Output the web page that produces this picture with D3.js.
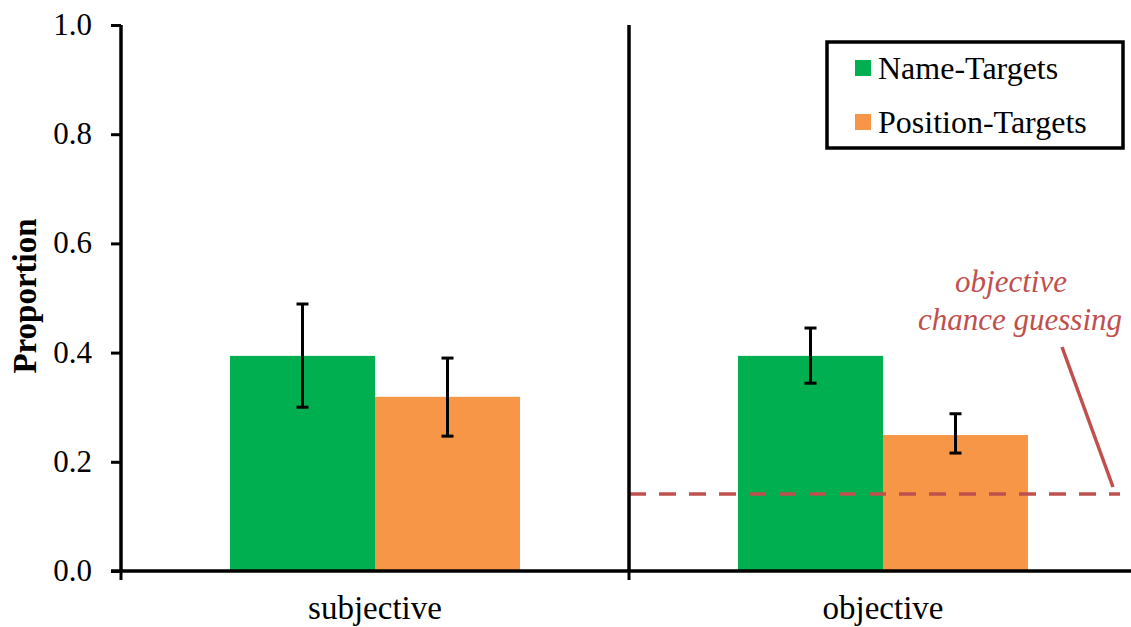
<!DOCTYPE html>
<html><head><meta charset="utf-8">
<script src="https://cdn.jsdelivr.net/npm/d3@7"></script>
</head><body style="margin:0;background:#fff">
<svg id="c" width="1131" height="627"></svg>
<script>
const categories = ["subjective", "objective"];
const seriesNames = ["Name-Targets", "Position-Targets"];
const seriesColors = ["#00b050", "#f79646"];
const nameValues = [0.394, 0.394];
const nameLow = [0.300, 0.344];
const nameHigh = [0.489, 0.445];
const positionValues = [0.319, 0.249];
const positionLow = [0.247, 0.216];
const positionHigh = [0.390, 0.288];
const yTicks = [0, 0.2, 0.4, 0.6, 0.8, 1.0];
const chanceLevel = 0.141;

const SERIF = "\"Liberation Serif\"";
const svg = d3.select("#c");
const mLeft = 121, mTop = 25, mBottom = 571, bandW = 508;
const x = d3.scaleBand().domain(categories).range([mLeft, mLeft + bandW * 2]).paddingInner(0).paddingOuter(0);
const y = d3.scaleLinear().domain([0, 1]).range([mBottom, mTop]);
const xs = d3.scaleBand().domain(seriesNames).range([0, x.bandwidth()]).paddingInner(0).paddingOuter(0.7517);
const color = d3.scaleOrdinal().domain(seriesNames).range(seriesColors);

const data = categories.map((c, i) => ({
  cat: c,
  vals: [
    {s: seriesNames[0], v: nameValues[i], lo: nameLow[i], hi: nameHigh[i]},
    {s: seriesNames[1], v: positionValues[i], lo: positionLow[i], hi: positionHigh[i]}
  ]
}));

// bars
const groups = svg.append("g").selectAll("g.grp").data(data).join("g").attr("transform", d => `translate(${x(d.cat)},0)`);
groups.selectAll("rect").data(d => d.vals).join("rect")
  .attr("x", d => xs(d.s)).attr("width", xs.bandwidth())
  .attr("y", d => y(d.v)).attr("height", d => y(0) - y(d.v))
  .attr("fill", d => color(d.s));

// chance line
svg.append("line")
  .attr("x1", x("objective")).attr("x2", 1120)
  .attr("y1", y(chanceLevel)).attr("y2", y(chanceLevel))
  .attr("stroke", "#c0504d").attr("stroke-width", 3.5).attr("stroke-dasharray", "17,13");

// error bars
groups.each(function(d) {
  const gg = d3.select(this);
  d.vals.forEach(v => {
    const cx = xs(v.s) + xs.bandwidth() / 2;
    gg.append("line").attr("x1", cx).attr("x2", cx).attr("y1", y(v.hi)).attr("y2", y(v.lo)).attr("stroke", "#000").attr("stroke-width", 3);
    [v.hi, v.lo].forEach(e => gg.append("line").attr("x1", cx - 6).attr("x2", cx + 6).attr("y1", y(e)).attr("y2", y(e)).attr("stroke", "#000").attr("stroke-width", 3));
  });
});

// y axis (ticks via d3 axis, labels drawn as plain text from the same scale)
const yAxis = svg.append("g").attr("transform", `translate(${mLeft},0)`)
  .call(d3.axisLeft(y).tickValues(yTicks).tickFormat("").tickSize(10));
yAxis.select(".domain").attr("stroke-width", 3.5).attr("d", `M0,${mTop}H0V${mBottom}`);
yAxis.selectAll(".tick line").attr("stroke-width", 3);
yAxis.selectAll(".tick text").remove();
svg.selectAll("text.ylab").data(yTicks).join("text").attr("class", "ylab")
  .style("font-family", SERIF)
  .attr("x", mLeft - 29).attr("y", d => y(d)).attr("dy", "0.32em").attr("text-anchor", "end")
  .attr("font-size", 31).attr("fill", "#000").text(d => d3.format(".1f")(d));

// x axis
const xAxisG = svg.append("g").attr("transform", `translate(0,${mBottom})`);
xAxisG.append("line").attr("x1", mLeft - 10).attr("x2", 1131).attr("y1", 0).attr("y2", 0).attr("stroke", "#000").attr("stroke-width", 3.5);
xAxisG.selectAll("line.tk").data(categories).join("line").attr("class", "tk")
  .attr("x1", d => x(d)).attr("x2", d => x(d)).attr("y1", 0).attr("y2", 9).attr("stroke", "#000").attr("stroke-width", 3);
xAxisG.selectAll("text").data(categories).join("text")
  .style("font-family", SERIF)
  .attr("x", d => x(d) + x.bandwidth() / 2).attr("y", 48).attr("text-anchor", "middle")
  .attr("font-size", 33).text(d => d);

// separator
svg.append("line").attr("x1", x("objective")).attr("x2", x("objective")).attr("y1", mTop).attr("y2", mBottom)
  .attr("stroke", "#000").attr("stroke-width", 3.5);

// y label
svg.append("text").style("font-family", SERIF).attr("transform", `translate(36,296) rotate(-90)`).attr("text-anchor", "middle")
  .attr("font-size", 33).attr("font-weight", "bold").text("Proportion");

// legend
const lg = svg.append("g");
lg.append("rect").attr("x", 827).attr("y", 42).attr("width", 296).attr("height", 106)
  .attr("fill", "#fff").attr("stroke", "#000").attr("stroke-width", 3.5);
seriesNames.forEach((s, i) => {
  lg.append("rect").attr("x", 855).attr("y", 60 + i * 54).attr("width", 16).attr("height", 16).attr("fill", color(s));
  lg.append("text").style("font-family", SERIF).attr("x", 878).attr("y", 79 + i * 54).attr("font-size", 32).text(s);
});

// annotation
const annLines = ["objective", "chance guessing"];
svg.append("text").style("font-family", SERIF).attr("fill", "#c0504d").attr("font-style", "italic").attr("font-size", 31)
  .attr("x", 1011).attr("y", 292).attr("text-anchor", "middle").text(annLines[0]);
svg.append("text").style("font-family", SERIF).attr("fill", "#c0504d").attr("font-style", "italic").attr("font-size", 31)
  .attr("x", 1122).attr("y", 330).attr("text-anchor", "end").text(annLines[1]);
svg.append("line").attr("x1", 1062).attr("y1", 347).attr("x2", 1113).attr("y2", 487)
  .attr("stroke", "#c0504d").attr("stroke-width", 3.5);
</script>
</body></html>
